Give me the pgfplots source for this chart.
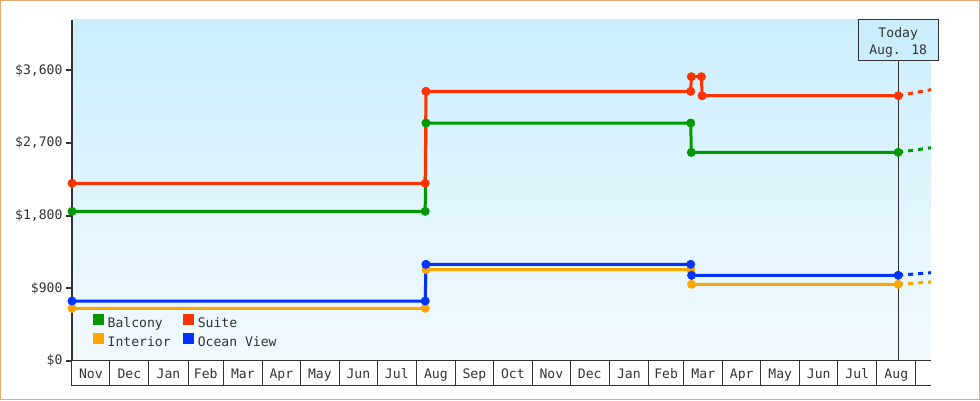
\documentclass[border=0pt]{standalone}
\usepackage{pgfplots}
\pgfplotsset{compat=1.18}
\usepackage{fontspec}
\setmainfont{DejaVu Sans Mono}

\definecolor{cBal}{HTML}{009900}
\definecolor{cSui}{HTML}{FF3300}
\definecolor{cInt}{HTML}{FFA500}
\definecolor{cOce}{HTML}{0033FF}
\definecolor{axisc}{HTML}{333333}
\definecolor{bgtop}{HTML}{CCEEFC}
\definecolor{bgbot}{HTML}{F2FAFF}
\definecolor{framec}{HTML}{E8AA6E}

\newcommand{\fs}{\fontsize{13.1}{17}\selectfont}

% x = days since 1 Nov (first year), y = price in $
\pgfplotstableread{
x y
0 650
280 650
280.6 1130
490.5 1130
491.2 947
655 947
}\interior
\pgfplotstableread{
x y
0 740
280 740
280.6 1195
490.5 1195
491.2 1059
655 1059
}\ocean
\pgfplotstableread{
x y
0 1852
280 1852
280.6 2947
490.5 2947
491 2583
655 2583
}\balcony
\pgfplotstableread{
x y
0 2200
280 2200
280.6 3340
490.5 3340
491 3521
499 3521
499.5 3285
655 3285
}\suite

\begin{document}
\begin{tikzpicture}
\useasboundingbox (0,0) rectangle (980pt,400pt);
\fill[white] (0,0) rectangle (980pt,400pt);
\draw[framec, line width=1pt] (0.5pt,0.5pt) rectangle (979.5pt,399.5pt);
\begin{axis}[
  at={(72pt,39.3pt)}, anchor=south west,
  scale only axis, width=859pt, height=340.7pt,
  xmin=0, xmax=681, ymin=0, ymax=4224,
  axis x line*=bottom, axis y line*=left,
  x axis line style={line width=1pt, color=axisc},
  y axis line style={line width=2pt, color=axisc},
  tick align=outside,
  major tick length=6pt,
  major tick style={line width=2pt, color=axisc},
  ytick={0,900,1800,2700,3600},
  yticklabels={\$0,\$900,{\$1,800},{\$2,700},{\$3,600}},
  xtick=\empty,
  extra x ticks={15,45.5,76.5,106,135.5,166,196.5,227,257.5,288.5,319,349.5,380,410.5,441.5,471,500.5,531,561.5,592,622.5,653.5},
  extra x tick labels={Nov,Dec,Jan,Feb,Mar,Apr,May,Jun,Jul,Aug,Sep,Oct,Nov,Dec,Jan,Feb,Mar,Apr,May,Jun,Jul,Aug},
  extra x tick style={major tick length=0pt, xticklabel style={anchor=base, yshift=-17.3pt}},
  tick label style={font=\fs, text=axisc},
  axis background/.style={top color=bgtop, bottom color=bgbot},
  clip=false,
  legend columns=2,
  legend cell align=left,
  legend image code/.code={\fill[#1, draw=none] (0pt,-1pt) rectangle (11pt,10pt);},
  legend style={at={(0.0244,0.137)}, anchor=north west, draw=none, fill=none,
    inner sep=0pt, font=\fs, text=axisc, row sep=1pt,
    nodes={inner xsep=3.5pt, inner ysep=1.5pt, text height=9.5pt, text depth=2.5pt},
    /tikz/every even column/.append style={column sep=9pt}},
  every axis plot/.append style={line width=3pt},
]
\addlegendimage{fill=cBal}
\addlegendentry{Balcony}
\addlegendimage{fill=cSui}
\addlegendentry{Suite}
\addlegendimage{fill=cInt}
\addlegendentry{Interior}
\addlegendimage{fill=cOce}
\addlegendentry{Ocean View}

% month cells below the axis
\pgfplotsinvokeforeach{0,30,61,92,120,151,181,212,242,273,304,334,365,395,426,457,485,516,546,577,607,638,669}{
  \draw[axisc, line width=1pt] (axis cs:#1,0) -- ([yshift=-24.5pt]axis cs:#1,0);
}
\draw[axisc, line width=1pt] ([xshift=-1pt,yshift=-24.5pt]axis cs:0,0) -- ([yshift=-24.5pt]axis cs:681,0);

% today marker
\draw[axisc, line width=0.8pt] (axis cs:655,0) -- ([yshift=-40pt]axis cs:655,4224);
\draw[axisc, line width=1pt, fill=bgtop] ([xshift=-40pt]axis cs:655,4224) rectangle ([xshift=40pt,yshift=-40pt]axis cs:655,4224);
\node[anchor=base, font=\fs, text=axisc, inner sep=0pt] at ([yshift=-17.3pt]axis cs:655,4224) {Today};
\node[anchor=base, font=\fs, text=axisc, inner sep=0pt] at ([yshift=-34.3pt]axis cs:655,4224) {Aug. 18};

% forecast (dashed)
\addplot[forget plot, cInt, dash pattern=on 5pt off 5pt] coordinates {(655,947) (681,976)};
\addplot[forget plot, cOce, dash pattern=on 5pt off 5pt] coordinates {(655,1059) (681,1091)};
\addplot[forget plot, cBal, dash pattern=on 5pt off 5pt] coordinates {(655,2583) (681,2640)};
\addplot[forget plot, cSui, dash pattern=on 5pt off 5pt] coordinates {(655,3285) (681,3360)};

% price history
\addplot[forget plot, cInt, mark=*, mark size=4.2pt, mark options={solid, line width=0.5pt}] table {\interior};
\addplot[forget plot, cOce, mark=*, mark size=4.2pt, mark options={solid, line width=0.5pt}] table {\ocean};
\addplot[forget plot, cBal, mark=*, mark size=4.2pt, mark options={solid, line width=0.5pt}] table {\balcony};
\addplot[forget plot, cSui, mark=*, mark size=4.2pt, mark options={solid, line width=0.5pt}] table {\suite};
\end{axis}
\end{tikzpicture}
\end{document}
